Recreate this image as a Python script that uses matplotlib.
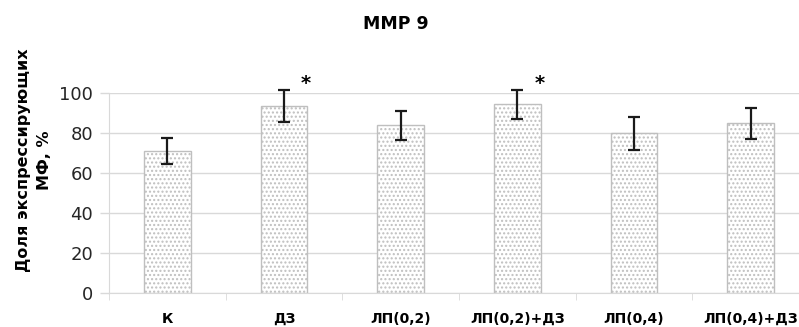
import numpy as np
import matplotlib.pyplot as plt

categories = ['К', 'ДЗ', 'ЛП(0,2)', 'ЛП(0,2)+ДЗ', 'ЛП(0,4)', 'ЛП(0,4)+ДЗ']
values = [70.8, 93.3, 83.6, 94.1, 79.6, 84.6]
errors = [6.7, 8.1, 7.4, 7.2, 8.3, 7.8]
stars = ['', '*', '', '*', '', '']
yticks = [0, 20, 40, 60, 80, 100]

plt.rcParams['font.family'] = ['DejaVu Sans']
plt.rcParams['hatch.color'] = '#a8a8a8'
plt.rcParams['hatch.linewidth'] = 1.0

fig = plt.figure(figsize=(7.99, 3.27), dpi=100)
ax = fig.add_axes([109 / 799, 34 / 327, 700 / 799, 200.5 / 327])

x = np.arange(len(categories))
ax.bar(x, values, width=0.4, color='white', edgecolor='#bfbfbf',
       linewidth=1.0, hatch='....', zorder=2)
ax.errorbar(x, values, yerr=errors, fmt='none', ecolor='#1a1a1a',
            elinewidth=1.6, capsize=4, capthick=1.6, zorder=3, clip_on=False)
for xi, s in zip(x, stars):
    if s:
        ax.text(xi + 0.19, 104.5, s, ha='center', va='center',
                fontsize=14, fontweight='bold', clip_on=False)

ax.set_xlim(-0.5, len(categories) - 0.5)
ax.set_ylim(0, 100)
ax.set_yticks(yticks)
ax.tick_params(axis='y', length=6.5, width=1.0, color='#d9d9d9',
               labelsize=13, pad=5, labelcolor='#262626')
ax.grid(axis='y', color='#d9d9d9', linewidth=1.0, zorder=0)
ax.set_xticks(x)
ax.set_xticklabels(categories, fontsize=10, fontweight='bold')
ax.tick_params(axis='x', length=0, pad=21.5)
for lbl in ax.get_xticklabels():
    lbl.set_verticalalignment('baseline')
ax.set_xticks(np.arange(len(categories) + 1) - 0.5, minor=True)
ax.tick_params(axis='x', which='minor', length=5, color='#d9d9d9')
for side in ['top', 'right']:
    ax.spines[side].set_visible(False)
ax.spines['bottom'].set_color('#d9d9d9')
ax.spines['left'].set_color('#d9d9d9')

ax.set_ylabel('Доля экспрессирующих\nМФ, %', fontsize=11.5, fontweight='bold',
              linespacing=1.5)
ax.yaxis.set_label_coords(-0.082, 0.66)
fig.text(396 / 799, 1 - 24 / 327, 'MMP 9', ha='center', va='center',
         fontsize=12.5, fontweight='bold')

fig.savefig('out.png', dpi=100)
